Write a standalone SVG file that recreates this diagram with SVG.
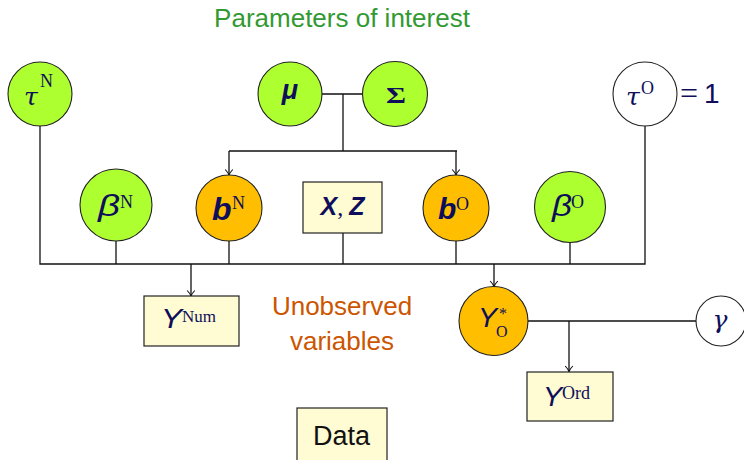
<svg xmlns="http://www.w3.org/2000/svg" width="744" height="460" viewBox="0 0 744 460">
  <defs>
    <marker id="arr" viewBox="-7 -5 8 10" refX="0" refY="0" markerWidth="8" markerHeight="10" markerUnits="userSpaceOnUse" orient="auto">
      <path d="M-5.5,-3.8 Q-2,-0.6 0,0 Q-2,0.6 -5.5,3.8" fill="none" stroke="#111" stroke-width="1.1"/>
    </marker>
  </defs>
  <style>
    .param { fill: #adff2f; stroke: #222; stroke-width: 1.1; }
    .latent { fill: #ffbf00; stroke: #222; stroke-width: 1.1; }
    .fixed { fill: #ffffff; stroke: #222; stroke-width: 1.1; }
    .data { fill: #fffbd2; stroke: #222; stroke-width: 1.2; }
    .edge { fill: none; stroke: #111; stroke-width: 1.3; }
    .math { fill: #0e0e5a; }
    .gk { font-family: "DejaVu Serif", "Liberation Serif", serif; font-style: italic; }
    .rm { font-family: "Liberation Serif", "DejaVu Serif", serif; }
    .ss { font-family: "Liberation Sans", Arial, sans-serif; }
    .si { font-family: "Liberation Sans", Arial, sans-serif; font-style: italic; }
    .bi { font-family: "Liberation Sans", Arial, sans-serif; font-weight: bold; font-style: italic; }
    .label { font-family: "Liberation Sans", Arial, sans-serif; font-size: 26px; text-anchor: middle; }
  </style>

  <!-- annotations -->
  <text class="label" x="342" y="27" fill="#339933">Parameters of interest</text>
  <text class="label" x="342" y="315" fill="#cc5500">Unobserved</text>
  <text class="label" x="342" y="350" fill="#cc5500">variables</text>

  <!-- connectors -->
  <g id="connectors">
    <path class="edge" d="M322,94 H363 M343,94 V151 M229,151 H457"/>
    <path class="edge" d="M229,151 V175" marker-end="url(#arr)"/>
    <path class="edge" d="M456,151 V175" marker-end="url(#arr)"/>
    <path class="edge" d="M40,126 V264 H645 V126"/>
    <path class="edge" d="M116,241 V264 M229,241 V264 M343,233 V264 M456,241 V264 M570,243 V264"/>
    <path class="edge" d="M191,264 V296" marker-end="url(#arr)"/>
    <path class="edge" d="M494,264 V286.5" marker-end="url(#arr)"/>
    <path class="edge" d="M528,321 H696"/>
    <path class="edge" d="M569,321 V371.5" marker-end="url(#arr)"/>
  </g>

  <!-- parameter nodes -->
  <g id="tauN">
    <circle class="param" cx="40" cy="94" r="32"/>
    <text class="math gk" x="24" y="105" font-size="25">τ</text>
    <text class="math rm" x="40" y="87" font-size="18">N</text>
  </g>
  <g id="mu">
    <circle class="param" cx="290" cy="94" r="32"/>
    <text class="math bi" x="290" y="99" font-size="27" text-anchor="middle">μ</text>
  </g>
  <g id="Sigma">
    <circle class="param" cx="395" cy="94" r="32.5"/>
    <text class="math rm" x="386" y="103" font-size="23" font-weight="bold" textLength="20" lengthAdjust="spacingAndGlyphs">Σ</text>
  </g>
  <g id="tauO">
    <circle class="fixed" cx="645" cy="94" r="32"/>
    <text class="math gk" x="626" y="105" font-size="25">τ</text>
    <text class="math rm" x="641" y="94" font-size="18">O</text>
    <text class="math rm" x="680" y="104" font-size="32">=</text>
    <text class="math ss" x="704" y="103" font-size="28">1</text>
  </g>

  <g id="betaN">
    <circle class="param" cx="116" cy="205" r="36"/>
    <text class="math si" x="98" y="216" font-size="29" textLength="22" lengthAdjust="spacingAndGlyphs">β</text>
    <text class="math rm" x="120" y="208" font-size="18">N</text>
  </g>
  <g id="bN">
    <circle class="latent" cx="229" cy="208" r="33"/>
    <text class="math bi" x="212" y="220" font-size="32">b</text>
    <text class="math rm" x="232" y="209" font-size="18">N</text>
  </g>
  <g id="XZ">
    <rect class="data" x="303" y="182" width="79" height="51"/>
    <text class="math" x="342.5" y="215" text-anchor="middle"><tspan class="bi" font-size="25">X</tspan><tspan class="rm" font-size="24">, </tspan><tspan class="bi" font-size="25">Z</tspan></text>
  </g>
  <g id="bO">
    <circle class="latent" cx="456" cy="208" r="33"/>
    <text class="math bi" x="438" y="219" font-size="30">b</text>
    <text class="math rm" x="456" y="210" font-size="18">O</text>
  </g>
  <g id="betaO">
    <circle class="param" cx="570" cy="207" r="35.5"/>
    <text class="math si" x="552" y="216" font-size="29" textLength="20" lengthAdjust="spacingAndGlyphs">β</text>
    <text class="math rm" x="571" y="208" font-size="18">O</text>
  </g>

  <!-- observed and latent outcomes -->
  <g id="YNum">
    <rect class="data" x="144" y="296" width="95" height="50"/>
    <text class="math si" x="161" y="328" font-size="27" textLength="21" lengthAdjust="spacingAndGlyphs">Y</text>
    <text class="math rm" x="182" y="322" font-size="17">Num</text>
  </g>
  <g id="YOstar">
    <circle class="latent" cx="493.5" cy="321" r="34.5"/>
    <text class="math si" x="478" y="327" font-size="28" textLength="19" lengthAdjust="spacingAndGlyphs">Y</text>
    <text class="math rm" x="499" y="319" font-size="16">*</text>
    <text class="math rm" x="496" y="337" font-size="16">O</text>
  </g>
  <g id="gamma">
    <circle class="fixed" cx="721" cy="321" r="25"/>
    <text class="math gk" x="720" y="328" font-size="25" text-anchor="middle">γ</text>
  </g>
  <g id="YOrd">
    <rect class="data" x="527" y="372" width="86" height="49"/>
    <text class="math si" x="543" y="406" font-size="27" textLength="19" lengthAdjust="spacingAndGlyphs">Y</text>
    <text class="math rm" x="562" y="399" font-size="18">Ord</text>
  </g>

  <g id="Data">
    <rect class="data" x="297" y="408" width="90" height="62"/>
    <text class="ss" x="341.5" y="445" font-size="27" fill="#111" text-anchor="middle">Data</text>
  </g>
</svg>
